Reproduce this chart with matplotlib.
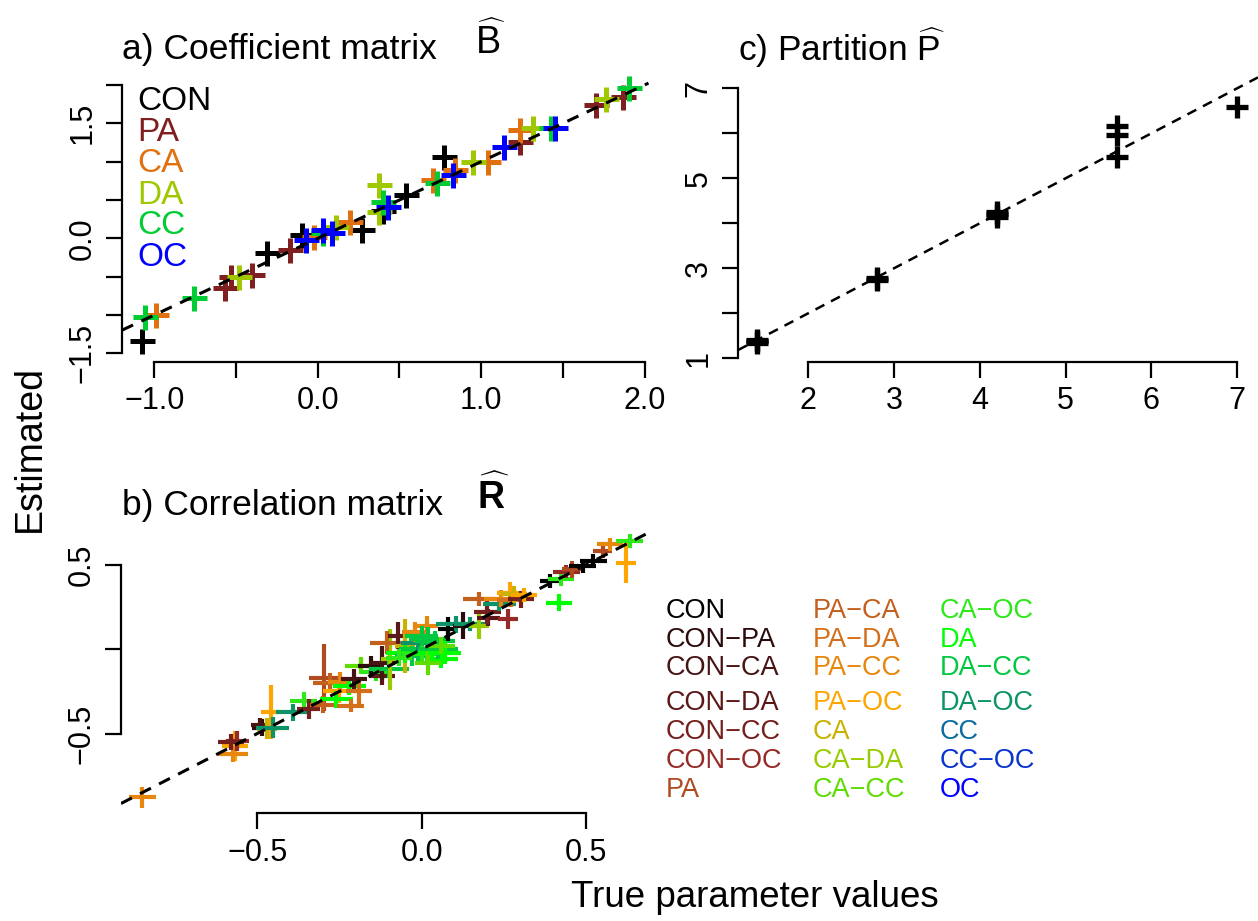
import numpy as np
import matplotlib.pyplot as plt

plt.rcParams['font.family'] = ['Liberation Sans', 'DejaVu Sans']
plt.rcParams['mathtext.fontset'] = 'custom'
plt.rcParams['mathtext.rm'] = 'Liberation Sans'
plt.rcParams['mathtext.bf'] = 'Liberation Sans:bold'

W, H = 1258, 921

# a) coefficient matrix: true vs estimated, by block
coef_names = ['CON', 'PA', 'CA', 'DA', 'CC', 'OC']
coef_colors = ['#000000', '#7f1f1f', '#e07010', '#a0c800', '#00cc33', '#0000ff']
coef_true = [-1.078, -0.313, -0.095, 0.268, 0.537, 0.774, 0.40,
             -0.568, -0.534, -0.401, -0.169, 1.239, 1.705, 1.871,
             -0.989, -0.024, 0.197, 0.707, 0.840, 1.040, 1.239,
             -0.479, 0.109, 0.375, 0.375, 0.951, 1.317, 1.761,
             -1.055, -0.756, 0.031, 0.397, 0.729, 1.428, 1.905,
             -0.069, 0.031, 0.087, 0.430, 0.829, 1.140, 1.450]
coef_est = [-1.335, -0.187, 0.043, 0.109, 0.565, 1.065, 0.36,
            -0.652, -0.500, -0.478, -0.152, 1.261, 1.739, 1.848,
            -1.000, 0.022, 0.217, 0.761, 0.891, 1.000, 1.413,
            -0.500, 0.152, 0.696, 0.348, 1.000, 1.435, 1.813,
            -1.022, -0.783, 0.065, 0.478, 0.717, 1.435, 1.957,
            -0.022, 0.109, 0.065, 0.413, 0.826, 1.196, 1.435]
coef_group = [0] * 7 + [1] * 7 + [2] * 7 + [3] * 7 + [4] * 7 + [5] * 7

# b) correlation matrix: true, estimate, interval half-widths, pair index
corr_names = ['CON', 'CON\u2212PA', 'CON\u2212CA', 'CON\u2212DA', 'CON\u2212CC',
              'CON\u2212OC', 'PA', 'PA\u2212CA', 'PA\u2212DA', 'PA\u2212CC',
              'PA\u2212OC', 'CA', 'CA\u2212DA', 'CA\u2212CC', 'CA\u2212OC', 'DA',
              'DA\u2212CC', 'DA\u2212OC', 'CC', 'CC\u2212OC', 'OC']
corr_colors = ['#000000', '#2b0b0b', '#471414', '#5c1818', '#76201e',
               '#952b27', '#b04a20', '#c4601e', '#d4701c', '#e8870e',
               '#ffa500', '#c9b200', '#99cc00', '#5fdd00', '#2ee81a',
               '#00ff00', '#00c840', '#0c9468', '#0c6ca0', '#0a36d0', '#0000ff']
corr_true = [-0.849, -0.568, -0.574, -0.560, -0.580, -0.486, -0.490, -0.470,
             -0.458, -0.453, -0.392, -0.359, -0.343, -0.298, -0.300, -0.280,
             -0.250, -0.249, -0.260, -0.220, -0.216, -0.190, -0.205, -0.183,
             -0.139, -0.155, -0.120, -0.120, -0.100, -0.095, -0.106, -0.073,
             -0.051, -0.050, -0.030, -0.010, -0.012, -0.020, 0.000, 0.015,
             0.020, 0.030, 0.059, 0.040, 0.020, 0.050, 0.070, 0.000,
             0.060, -0.070, 0.081, 0.104, 0.126, 0.148, 0.175, 0.203,
             0.200, 0.175, 0.236, 0.240, 0.269, 0.270, 0.263, 0.280,
             0.302, 0.310, 0.390, 0.417, 0.423, 0.440, 0.456, 0.489,
             0.522, 0.550, 0.572, 0.621, 0.632]
corr_est = [-0.878, -0.572, -0.621, -0.545, -0.550, -0.464, -0.450, -0.470,
            -0.370, -0.464, -0.375, -0.306, -0.355, -0.168, -0.330, -0.200,
            -0.250, -0.197, -0.296, -0.220, -0.335, -0.250, -0.178, -0.099,
            -0.138, -0.099, -0.160, -0.080, -0.120, -0.059, 0.039, 0.079,
            0.020, -0.020, -0.040, 0.000, 0.039, 0.100, -0.030, 0.138,
            0.060, -0.020, -0.059, 0.050, -0.080, 0.000, -0.020, 0.080,
            0.020, -0.050, 0.118, 0.148, 0.138, 0.148, 0.138, 0.187,
            0.220, 0.296, 0.266, 0.300, 0.335, 0.290, 0.178, 0.325,
            0.296, 0.320, 0.404, 0.276, 0.414, 0.460, 0.473, 0.493,
            0.523, 0.580, 0.621, 0.513, 0.641]
corr_xerr = [0.040, 0.040, 0.045, 0.035, 0.040, 0.030, 0.030, 0.030,
             0.030, 0.050, 0.050, 0.040, 0.035, 0.045, 0.040, 0.050,
             0.050, 0.035, 0.050, 0.050, 0.040, 0.040, 0.040, 0.050,
             0.050, 0.040, 0.040, 0.040, 0.060, 0.030, 0.050, 0.030,
             0.030, 0.060, 0.050, 0.060, 0.050, 0.040, 0.060, 0.035,
             0.060, 0.060, 0.050, 0.060, 0.040, 0.060, 0.050, 0.050,
             0.040, 0.040, 0.030, 0.060, 0.030, 0.050, 0.030, 0.035,
             0.040, 0.050, 0.050, 0.050, 0.040, 0.040, 0.030, 0.040,
             0.040, 0.040, 0.030, 0.040, 0.040, 0.040, 0.030, 0.040,
             0.040, 0.030, 0.040, 0.030, 0.040]
corr_yerr = [0.060, 0.090, 0.050, 0.060, 0.050, 0.050, 0.040, 0.060,
             0.160, 0.060, 0.050, 0.050, 0.060, 0.200, 0.050, 0.060,
             0.070, 0.060, 0.050, 0.050, 0.040, 0.080, 0.060, 0.050,
             0.050, 0.060, 0.050, 0.100, 0.050, 0.180, 0.070, 0.080,
             0.160, 0.060, 0.060, 0.070, 0.070, 0.060, 0.060, 0.060,
             0.070, 0.060, 0.050, 0.060, 0.070, 0.060, 0.070, 0.060,
             0.050, 0.050, 0.070, 0.050, 0.080, 0.040, 0.080, 0.050,
             0.070, 0.040, 0.040, 0.050, 0.060, 0.040, 0.060, 0.050,
             0.050, 0.040, 0.040, 0.050, 0.040, 0.040, 0.050, 0.040,
             0.040, 0.040, 0.040, 0.120, 0.040]
corr_group = [9, 10, 9, 5, 4, 1, 2, 11,
              10, 17, 17, 14, 4, 6, 7, 7,
              10, 9, 15, 15, 8, 8, 2, 13,
              14, 1, 3, 2, 16, 12, 7, 3,
              11, 15, 16, 16, 17, 9, 14, 9,
              16, 15, 15, 16, 13, 16, 15, 16,
              13, 14, 0, 17, 1, 17, 12, 3,
              4, 7, 17, 9, 10, 8, 5, 11,
              4, 10, 0, 15, 14, 5, 6, 0,
              0, 6, 9, 10, 14]

# c) partition: true vs estimated
part_true = [1.4, 1.4, 1.4, 2.8, 2.8, 4.2, 4.2, 4.2, 5.6, 5.6, 5.6, 7.0]
part_est = [1.35, 1.38, 1.40, 2.74, 2.78, 4.15, 4.20, 4.25, 5.48, 5.96, 6.16, 6.59]


def fxy(px, py):
    return px / W, 1 - py / H


def box(left, top, right, bottom):
    return [left / W, 1 - bottom / H, (right - left) / W, (bottom - top) / H]


def style_axis(ax, xt, xl, yt, yl):
    for s in ['top', 'right']:
        ax.spines[s].set_visible(False)
    ax.spines['left'].set_bounds(yt[0], yt[-1])
    ax.spines['bottom'].set_bounds(xt[0], xt[-1])
    for s in ['left', 'bottom']:
        ax.spines[s].set_linewidth(1.6)
    ax.set_xticks(xt)
    ax.set_xticklabels(xl)
    ax.set_yticks(yt)
    ax.set_yticklabels(yl, rotation=90, va='center')
    ax.tick_params(length=11.5, width=1.6, labelsize=22, pad=6)
    ax.patch.set_visible(False)


dash = (0, (4, 3))
fig = plt.figure(figsize=(W / 100, H / 100), dpi=100)

# a) coefficients
ax = fig.add_axes(box(122, 75, 648.5, 362))
ax.set_xlim(-1.198, 2.024)
ax.set_ylim(-1.613, 2.130)
ax.axline((0, 0), (1, 1), color='k', ls=dash, lw=2.2, zorder=3)
for g in range(len(coef_names)):
    xs = [t for t, k in zip(coef_true, coef_group) if k == g]
    ys = [e for e, k in zip(coef_est, coef_group) if k == g]
    ax.plot(xs, ys, ls='none', marker='+', ms=18, mew=3.6,
            color=coef_colors[g], zorder=2)
style_axis(ax, [-1, -0.5, 0, 0.5, 1, 1.5, 2],
           ['\u22121.0', '', '0.0', '', '1.0', '', '2.0'],
           [-1.5, -1, -0.5, 0, 0.5, 1, 1.5, 2],
           ['\u22121.5', '', '', '0.0', '', '', '1.5', ''])
for name, col, py in zip(coef_names, coef_colors, [101, 132, 163, 195, 226, 258]):
    fig.text(*fxy(137, py), name, color=col, fontsize=24, va='center')

# b) correlations
ax = fig.add_axes(box(121, 532, 650, 813.3))
ax.set_xlim(-0.914, 0.694)
ax.set_ylim(-0.972, 0.694)
ax.axline((0, 0), (1, 1), color='k', ls=dash, lw=2.2, zorder=3)
for x, y, dx, dy, g in zip(corr_true, corr_est, corr_xerr, corr_yerr, corr_group):
    ax.errorbar(x, y, xerr=dx, yerr=dy, fmt='none', ecolor=corr_colors[g],
                elinewidth=3.0, capsize=0, zorder=2)
style_axis(ax, [-0.5, 0, 0.5], ['\u22120.5', '0.0', '0.5'],
           [-0.5, 0, 0.5], ['\u22120.5', '', '0.5'])

# c) partition
ax = fig.add_axes(box(738, 75, 1258, 361.7))
ax.set_xlim(1.182, 7.243)
ax.set_ylim(0.924, 7.296)
ax.axline((1, 1), (2, 2), color='k', ls=dash, lw=1.8, zorder=3)
ax.plot(part_true, part_est, ls='none', marker='+', ms=16, mew=3.8,
        color='k', zorder=2)
style_axis(ax, [2, 3, 4, 5, 6, 7], ['2', '3', '4', '5', '6', '7'],
           [1, 2, 3, 4, 5, 6, 7], ['1', '', '3', '', '5', '', '7'])

# titles with hatted symbols
fig.text(*fxy(122, 50), 'a) Coefficient matrix', fontsize=25.5, va='center')
fig.text(*fxy(490, 42), r'$\widehat{\mathrm{B}}$', fontsize=27, va='center',
         ha='center')
fig.text(*fxy(122, 505), 'b) Correlation matrix', fontsize=25.5, va='center')
fig.text(*fxy(493, 496), r'$\widehat{\mathbf{R}}$', fontsize=27, va='center',
         ha='center')
fig.text(*fxy(738, 48), r'c) Partition $\widehat{\mathrm{P}}$', fontsize=25.5,
         va='center')

fig.text(*fxy(30, 448), 'Estimated', fontsize=27, rotation=90,
         va='center', ha='center')
fig.text(*fxy(755, 897), 'True parameter values', fontsize=26.5,
         va='center', ha='center')

# legend for the correlation pairs
cols_x = [666, 813, 940]
rows_y = [611, 640, 668, 703, 732, 761, 790]
for i, (name, col) in enumerate(zip(corr_names, corr_colors)):
    fig.text(*fxy(cols_x[i // 7], rows_y[i % 7]), name, color=col,
             fontsize=19.5, va='center')

fig.savefig('out.png', dpi=100)
